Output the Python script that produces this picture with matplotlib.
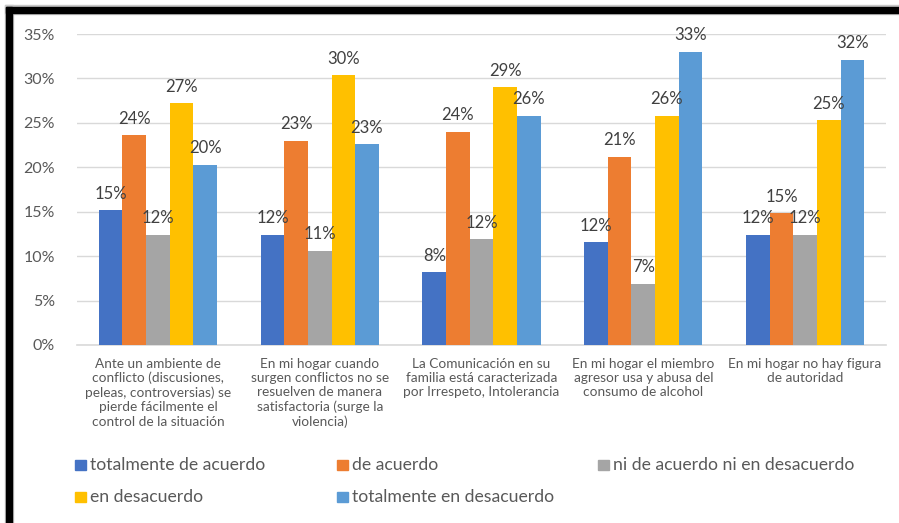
import numpy as np
import matplotlib.pyplot as plt
from matplotlib.patches import Rectangle

categories = [
    "Ante un ambiente de\nconflicto (discusiones,\npeleas, controversias) se\npierde fácilmente el\ncontrol de la situación",
    "En mi hogar cuando\nsurgen conflictos no se\nresuelven de manera\nsatisfactoria (surge la\nviolencia)",
    "La Comunicación en su\nfamilia está caracterizada\npor Irrespeto, Intolerancia",
    "En mi hogar el miembro\nagresor usa y abusa del\nconsumo de alcohol",
    "En mi hogar no hay figura\nde autoridad",
]
series_names = [
    "totalmente de acuerdo",
    "de acuerdo",
    "ni de acuerdo ni en desacuerdo",
    "en desacuerdo",
    "totalmente en desacuerdo",
]
totalmente_de_acuerdo = [0.152, 0.124, 0.082, 0.116, 0.124]
de_acuerdo = [0.236, 0.230, 0.240, 0.212, 0.148]
ni_ni = [0.124, 0.106, 0.119, 0.069, 0.124]
en_desacuerdo = [0.272, 0.304, 0.290, 0.258, 0.253]
totalmente_en_desacuerdo = [0.203, 0.226, 0.258, 0.330, 0.321]
yticks = [0, 0.05, 0.10, 0.15, 0.20, 0.25, 0.30, 0.35]

series = [totalmente_de_acuerdo, de_acuerdo, ni_ni, en_desacuerdo, totalmente_en_desacuerdo]
colors = ["#4472C4", "#ED7D31", "#A5A5A5", "#FFC000", "#5B9BD5"]

plt.rcParams['font.family'] = ['Lato', 'DejaVu Sans']

W, H = 899, 523
fig = plt.figure(figsize=(W / 100, H / 100), dpi=100)
ax = fig.add_axes([77 / W, 1 - 345 / H, (886 - 77) / W, (345 - 34) / H])

x = np.arange(len(categories))
bw = 0.146
for i, (vals, col) in enumerate(zip(series, colors)):
    pos = x + (i - 2) * bw
    bars = ax.bar(pos, vals, bw, color=col, zorder=3)
    for b, v in zip(bars, vals):
        ax.annotate(f"{v:.0%}", (b.get_x() + b.get_width() / 2, v),
                    xytext=(0, 6), textcoords="offset points",
                    ha="center", va="bottom", fontsize=12, color="#404040", zorder=4)

ax.set_xlim(-0.5, len(categories) - 0.5)
ax.set_ylim(0, 0.35)
ax.set_yticks(yticks)
ax.set_yticklabels([f"{t:.0%}" for t in yticks], fontsize=11.5, color="#595959")
ax.set_xticks(x)
ax.set_xticklabels(categories, fontsize=9.8, color="#595959", linespacing=1.22)
ax.tick_params(axis="both", length=0)
ax.tick_params(axis="y", pad=16)
ax.tick_params(axis="x", pad=9)
ax.grid(axis="y", color="#d9d9d9", linewidth=1, zorder=0)
for s in ["top", "right", "left"]:
    ax.spines[s].set_visible(False)
ax.spines["bottom"].set_color("#d9d9d9")
ax.spines["bottom"].set_linewidth(1.2)

# legend laid out in rows like the spreadsheet legend
leg_pos = [(75, 465), (337, 465), (598, 465), (75, 497), (337, 497)]
for (lx, ly), name, col in zip(leg_pos, series_names, colors):
    fig.add_artist(Rectangle((lx / W, 1 - (ly + 5) / H), 11 / W, 10 / H,
                             transform=fig.transFigure, color=col))
    fig.text((lx + 15) / W, 1 - ly / H, name, fontsize=12.7, color="#595959",
             ha="left", va="center")

# black frame on the top and left edges
fig.add_artist(Rectangle((5 / W, 0), 8 / W, 1 - 5 / H, transform=fig.transFigure, color="#c8c8c8"))
fig.add_artist(Rectangle((5 / W, 1 - 14 / H), 1, 9 / H, transform=fig.transFigure, color="#c8c8c8"))
fig.add_artist(Rectangle((6 / W, 0), 6 / W, 1 - 7 / H, transform=fig.transFigure, color="black"))
fig.add_artist(Rectangle((6 / W, 1 - 13 / H), 1, 6 / H, transform=fig.transFigure, color="black"))

fig.savefig("out.png", dpi=100)
